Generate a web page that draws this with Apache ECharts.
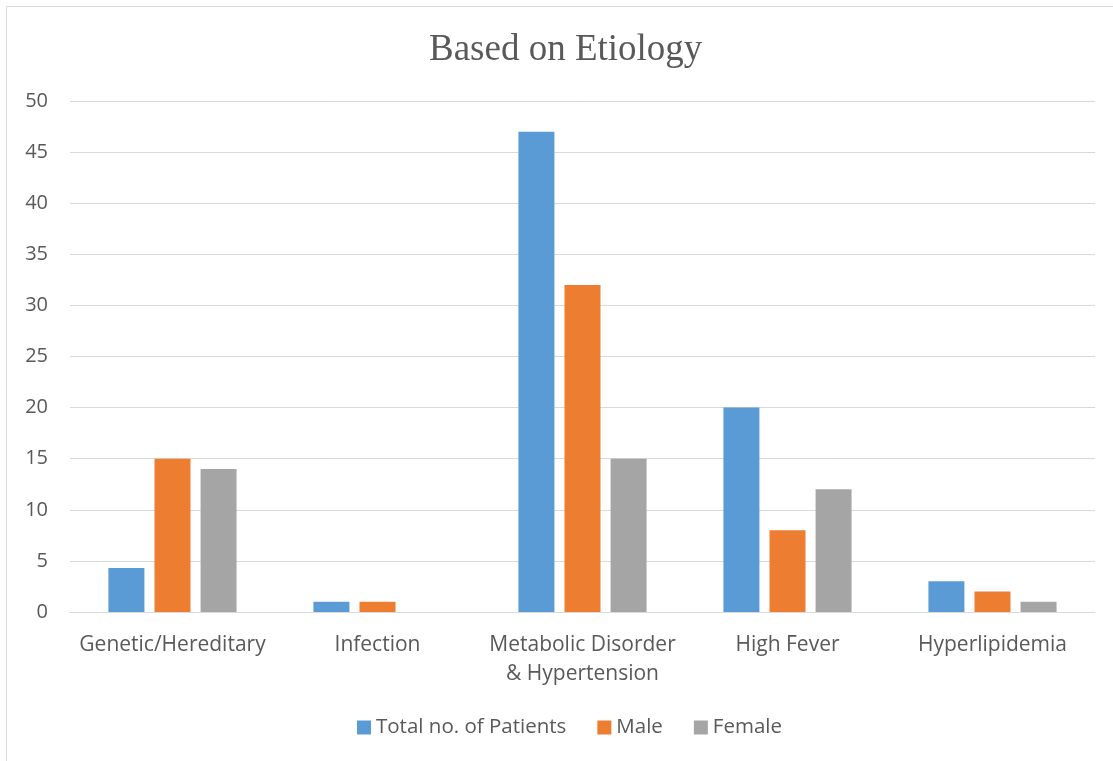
<!DOCTYPE html>
<html>
<head>
<meta charset="utf-8">
<script src="https://cdn.jsdelivr.net/npm/echarts@6/dist/echarts.min.js"></script>
<style>
  html, body { margin: 0; padding: 0; background: #fff; }
  #main { width: 1113px; height: 761px; }
</style>
</head>
<body>
<div id="main"></div>
<script>
// 数据
const categories = ['Genetic/Hereditary', 'Infection', 'Metabolic Disorder\n& Hypertension', 'High Fever', 'Hyperlipidemia'];
const totalPatients = [4.3, 1, 47, 20, 3];
const male = [15, 1, 32, 8, 2];
const female = [14, 0, 15, 12, 1];
const seriesNames = ['Total no. of Patients', 'Male', 'Female'];

const chart = echarts.init(document.getElementById('main'));
const labelFont = '"Open Sans", sans-serif';

const option = {
  backgroundColor: '#fff',
  color: ['#5b9bd5', '#ed7d31', '#a5a5a5'],
  animation: false,
  title: {
    text: 'Based on Etiology',
    left: 424,
    top: 27,
    textStyle: {
      fontFamily: '"Liberation Serif", serif',
      fontWeight: 'normal',
      fontSize: 37,
      color: '#595959'
    }
  },
  graphic: [{
    type: 'rect',
    shape: { x: 6.5, y: 6.5, width: 1120, height: 800 },
    style: { fill: 'none', stroke: '#d9d9d9', lineWidth: 1 },
    silent: true
  }],
  legend: {
    data: seriesNames,
    bottom: 18,
    left: 352,
    icon: 'rect',
    itemWidth: 14,
    itemHeight: 14,
    itemGap: 31,
    textStyle: { fontFamily: labelFont, fontSize: 20.5, color: '#595959' }
  },
  grid: {
    left: 70,
    right: 18,
    top: 101,
    bottom: 149
  },
  xAxis: {
    type: 'category',
    data: categories,
    axisTick: { show: false },
    axisLine: { lineStyle: { color: '#d9d9d9' } },
    axisLabel: {
      fontFamily: labelFont,
      fontSize: 21,
      color: '#595959',
      margin: 19,
      lineHeight: 29,
      interval: 0
    }
  },
  yAxis: {
    type: 'value',
    min: 0,
    max: 50,
    interval: 5,
    axisLine: { show: false },
    axisTick: { show: false },
    splitLine: { lineStyle: { color: '#d9d9d9' } },
    axisLabel: {
      fontFamily: labelFont,
      fontSize: 20,
      color: '#595959',
      margin: 22
    }
  },
  series: [
    { name: seriesNames[0], type: 'bar', data: totalPatients, barWidth: 36, barGap: '28%' },
    { name: seriesNames[1], type: 'bar', data: male, barWidth: 36, barGap: '28%' },
    { name: seriesNames[2], type: 'bar', data: female, barWidth: 36, barGap: '28%' }
  ]
};

chart.setOption(option);
window.onresize = function () {
  chart.resize();
};
</script>
</body>
</html>
